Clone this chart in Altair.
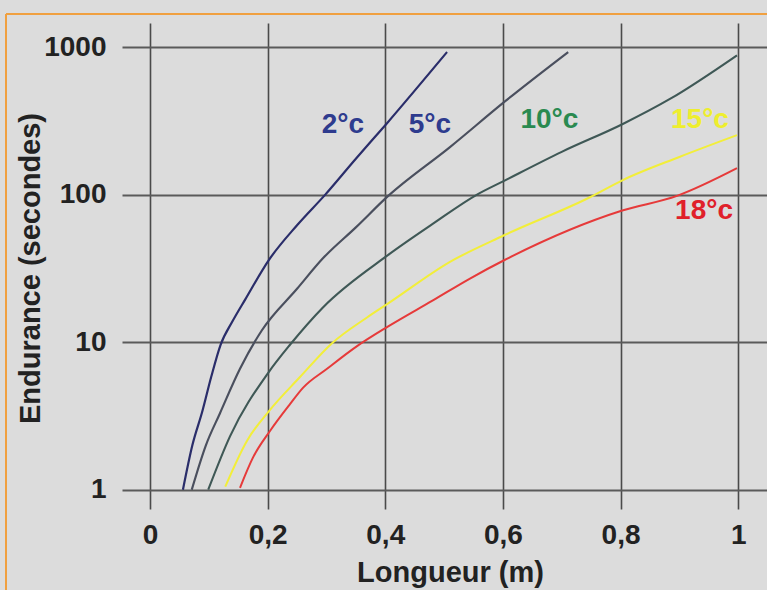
import altair as alt
import pandas as pd

# ---- data ----
x_2c = [0.056, 0.072, 0.089, 0.104, 0.12, 0.14, 0.162, 0.202, 0.25, 0.298, 0.35, 0.403, 0.505]
y_2c = [1, 2, 3.4, 5.8, 9.6, 13.8, 19.5, 36, 62, 100, 175, 305, 925]

x_5c = [0.071, 0.095, 0.119, 0.153, 0.19, 0.25, 0.294, 0.35, 0.405, 0.51, 0.604, 0.711]
y_5c = [1, 2, 3.3, 6.6, 12, 23, 37, 60, 98, 210, 430, 925]

x_10c = [0.099, 0.136, 0.201, 0.238, 0.294, 0.405, 0.48, 0.556, 0.602, 0.7, 0.803, 0.884, 0.998]
y_10c = [1, 2.3, 6.2, 9.6, 17.2, 39, 63, 100, 124, 195, 300, 445, 880]

x_15c = [0.128, 0.165, 0.202, 0.255, 0.309, 0.369, 0.405, 0.51, 0.602, 0.748, 0.803, 0.9, 0.998]
y_15c = [1.05, 2.15, 3.4, 5.8, 9.8, 14.7, 18.3, 35, 53, 96, 125, 180, 253]

x_18c = [0.153, 0.175, 0.204, 0.238, 0.26, 0.301, 0.352, 0.405, 0.481, 0.544, 0.602, 0.803, 0.896, 0.998]
y_18c = [1.03, 1.65, 2.5, 3.8, 4.9, 6.6, 9.4, 12.8, 19.2, 27, 35.9, 78, 98, 151]

series_names = ["2°C", "5°C", "10°C", "15°C", "18°C"]
line_colors = ["#2a2d6a", "#4a4f5e", "#3f5856", "#f2ee3a", "#e63a3a"]
line_widths = [2.2, 2, 2, 3.5, 2.2]

label_texts = ["2°c", "5°c", "10°c", "15°c", "18°c"]
label_x = [0.328, 0.476, 0.679, 0.935, 0.942]
label_y = [295, 295, 320, 320, 77]
label_colors = ["#2e3b8e", "#2e3b8e", "#2a8a50", "#eeee2e", "#e0202a"]

x_ticks = [0, 0.2, 0.4, 0.6, 0.8, 1]
y_ticks = [1, 10, 100, 1000]

# ---- build tables ----
xs = [x_2c, x_5c, x_10c, x_15c, x_18c]
ys = [y_2c, y_5c, y_10c, y_15c, y_18c]
rows = []
for name, xv, yv in zip(series_names, xs, ys):
    for a, b in zip(xv, yv):
        rows.append({"serie": name, "x": a, "y": b})
df = pd.DataFrame(rows)

labels_df = pd.DataFrame({"t": label_texts, "x": label_x, "y": label_y, "c": label_colors})

FONT = "Liberation Sans"
W, H = 645, 486

x_scale = alt.Scale(domain=[-0.0476, 1.049], nice=False, zero=False)
y_scale = alt.Scale(type="log", domain=[0.74, 1456], nice=False)

label_expr = "datum.value == 0 ? '0' : datum.value == 1 ? '1' : replace(format(datum.value, '.1f'), '.', ',')"

x_axis = alt.Axis(
    values=x_ticks, labelExpr=label_expr, title="Longueur (m)",
    grid=True, gridColor="#4a4a4a", gridWidth=1.6, gridOpacity=1,
    domain=False, ticks=False,
    labelFont=FONT, labelFontSize=28, labelFontWeight="bold", labelColor="#222222",
    labelPadding=12,
    titleFont=FONT, titleFontSize=29, titleFontWeight="bold", titleColor="#222222",
    titleX=328, titleY=72, titleBaseline="alphabetic", titleAlign="center",
)
y_axis = alt.Axis(
    values=y_ticks, format="d", title="Endurance (secondes)",
    grid=True, gridColor="#5a5a5a", gridWidth=2.2, gridOpacity=1,
    domain=False, ticks=False,
    labelFont=FONT, labelFontSize=28, labelFontWeight="bold", labelColor="#222222",
    labelPadding=16,
    titleFont=FONT, titleFontSize=29, titleFontWeight="bold", titleColor="#222222",
    titleAngle=270, titleX=-92, titleY=245, titleBaseline="middle", titleAlign="center",
)

lines = alt.Chart(df).mark_line(interpolate="monotone").encode(
    x=alt.X("x:Q", scale=x_scale, axis=x_axis),
    y=alt.Y("y:Q", scale=y_scale, axis=y_axis),
    color=alt.Color("serie:N", scale=alt.Scale(domain=series_names, range=line_colors), legend=None),
    strokeWidth=alt.StrokeWidth("serie:N", scale=alt.Scale(domain=series_names, range=line_widths), legend=None),
    detail="serie:N",
)

texts = alt.Chart(labels_df).mark_text(
    font=FONT, fontSize=28, fontWeight="bold", align="center", baseline="middle"
).encode(
    x=alt.X("x:Q", scale=x_scale),
    y=alt.Y("y:Q", scale=y_scale),
    text="t:N",
    color=alt.Color("c:N", scale=None),
)

border_left = alt.Chart(pd.DataFrame({"a": [0]})).mark_rule(color="#f0a040", strokeWidth=2).encode(
    x=alt.value(-116), y=alt.value(-9), y2=alt.value(H + 100)
)
border_top = alt.Chart(pd.DataFrame({"a": [0]})).mark_rule(color="#f0a040", strokeWidth=2).encode(
    x=alt.value(-116), x2=alt.value(W + 10), y=alt.value(-9)
)

chart = alt.layer(lines, texts, border_left, border_top).properties(
    width=W, height=H,
    background="#dcdcdc",
    autosize=alt.AutoSizeParams(type="none"),
    padding={"left": 122, "top": 23, "right": 0, "bottom": 81},
).configure_view(stroke=None)

chart.save("out.html", embed_options={"renderer": "svg", "actions": False})
